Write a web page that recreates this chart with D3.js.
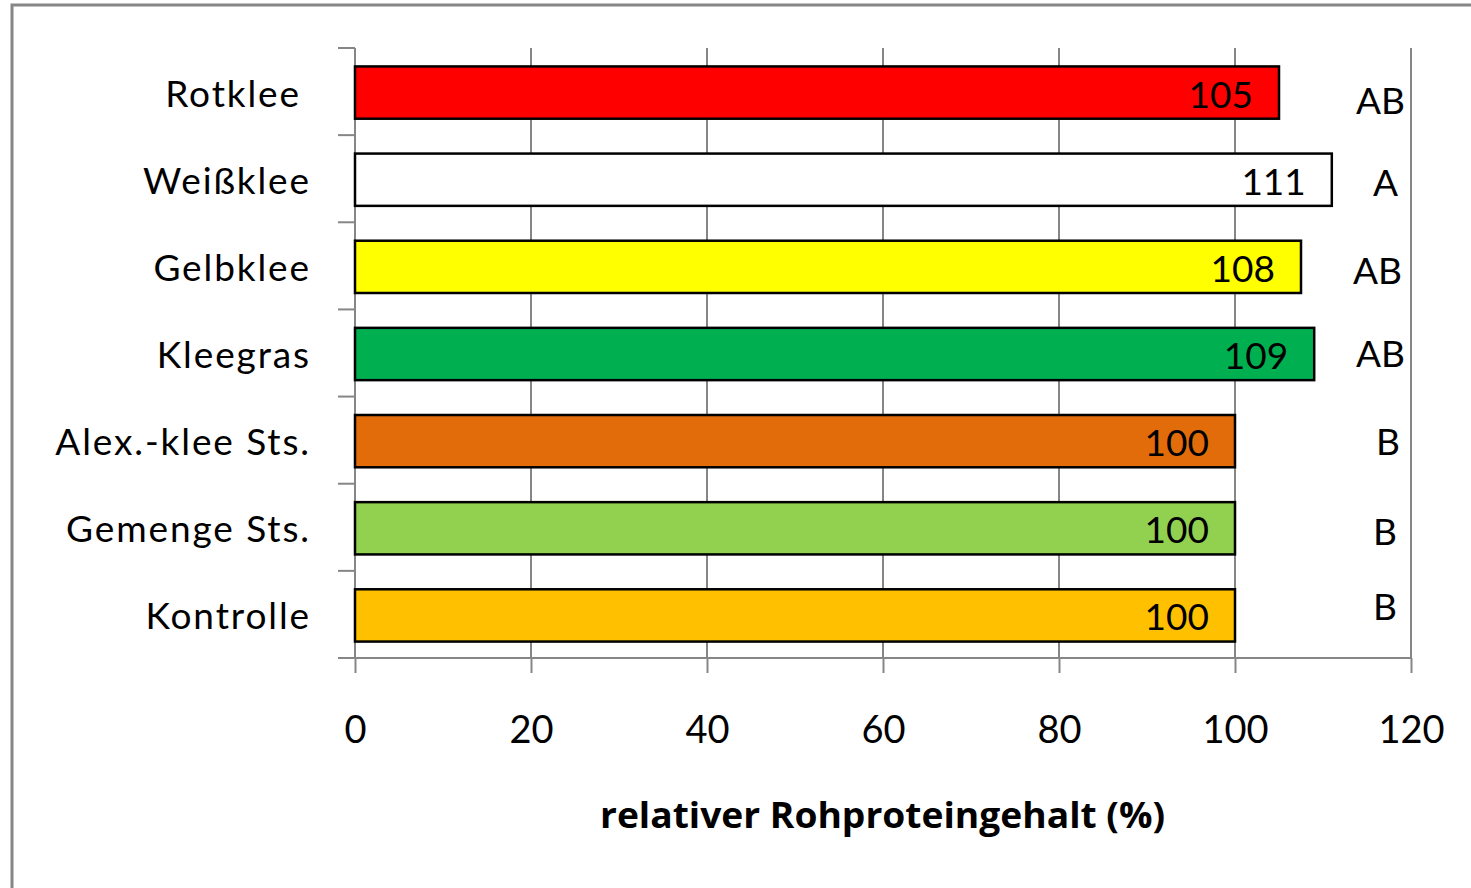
<!DOCTYPE html>
<html><head><meta charset="utf-8">
<script src="https://cdn.jsdelivr.net/npm/d3@7"></script>
<style>html,body{margin:0;padding:0;background:#fff;overflow:hidden}</style>
</head><body>
<svg id="c" width="1471" height="888"></svg>
<script>
const categories = ["Rotklee","Weißklee","Gelbklee","Kleegras","Alex.-klee Sts.","Gemenge Sts.","Kontrolle"];
const values = [105, 111, 107.5, 109, 100, 100, 100];
const valueLabels = ["105","111","108","109","100","100","100"];
const letters = ["AB","A","AB","AB","B","B","B"];
const colors = ["#FF0000","#FFFFFF","#FFFF00","#00B050","#E36C0A","#92D050","#FFC000"];
const xTicks = [0,20,40,60,80,100,120];
const xTitle = "relativer Rohproteingehalt (%)";

// layout tweaks for the significance letters and labels (offsets in px)
const letterDx = [1,-6,-2,1,-4,-7,-7];
const letterDy = [22,17,18,14,15,18,6];
const labelDx = [-10,0,0,0,0,0,0];

const svg = d3.select("#c");
const FONT = "Lato, 'Open Sans', sans-serif";
const grey = "#868686";
const L = 355, R = 1411, T = 48, B = 658;

svg.append("rect").attr("x",12).attr("y",5).attr("width",1600).attr("height",1000)
  .attr("fill","#fff").attr("stroke",grey).attr("stroke-width",3);

const x = d3.scaleLinear().domain([0,120]).range([L,R]);
const y = d3.scaleBand().domain(categories).range([T,B]).paddingInner(0.4).paddingOuter(0.2);

// vertical gridlines
svg.append("g").selectAll("line").data(xTicks.filter(d=>d>0)).join("line")
  .attr("x1",d=>x(d)).attr("x2",d=>x(d)).attr("y1",T).attr("y2",B)
  .attr("stroke",grey).attr("stroke-width",2);

// x axis
const xAxis = svg.append("g").attr("transform",`translate(0,${B})`)
  .call(d3.axisBottom(x).tickValues(xTicks).tickSize(15).tickPadding(0).tickFormat(d3.format("d")));
xAxis.select(".domain").attr("stroke",grey).attr("stroke-width",2).attr("d",`M${L-17},0H${R}`);
xAxis.selectAll(".tick line").attr("stroke",grey).attr("stroke-width",2);
xAxis.selectAll(".tick text").attr("font-family",FONT).attr("font-size",38).attr("fill","#000")
  .attr("dy",null).attr("y",85);

// y axis (category boundaries)
svg.append("line").attr("x1",L).attr("x2",L).attr("y1",T).attr("y2",B).attr("stroke",grey).attr("stroke-width",2);
svg.append("g").selectAll("line").data(d3.range(categories.length+1)).join("line")
  .attr("x1",L-17).attr("x2",L).attr("y1",i=>T+i*(B-T)/categories.length).attr("y2",i=>T+i*(B-T)/categories.length)
  .attr("stroke",grey).attr("stroke-width",2);

// category labels
const bandCenter = c => T + (categories.indexOf(c)+0.5)*(B-T)/categories.length;
svg.append("g").selectAll("text").data(categories).join("text")
  .attr("x",(d,i)=>311+labelDx[i]).attr("y",d=>bandCenter(d)+15).attr("text-anchor","end")
  .attr("letter-spacing","1.9px")
  .attr("font-family",FONT).attr("font-size",37).attr("fill","#000").text(d=>d);

// bars
svg.append("g").selectAll("rect").data(values).join("rect")
  .attr("x",x(0)).attr("y",(d,i)=>y(categories[i])+1)
  .attr("width",d=>x(d)-x(0)).attr("height",y.bandwidth())
  .attr("fill",(d,i)=>colors[i]).attr("stroke","#000").attr("stroke-width",2.5);

// value labels
svg.append("g").selectAll("text").data(values).join("text")
  .attr("x",d=>x(d)-26).attr("y",(d,i)=>y(categories[i])+1+y.bandwidth()/2+15)
  .attr("text-anchor","end").attr("font-family",FONT).attr("font-size",37).attr("fill","#000")
  .text((d,i)=>valueLabels[i]);

// significance letters
svg.append("g").selectAll("text").data(letters).join("text")
  .attr("x",(d,i)=>x(120)-7+letterDx[i]).attr("y",(d,i)=>bandCenter(categories[i])+letterDy[i])
  .attr("text-anchor","end").attr("font-family",FONT).attr("font-size",37).attr("fill","#000").text(d=>d);

// axis title
svg.append("text").attr("x",600).attr("y",828).attr("text-anchor","start")
  .attr("textLength",565).attr("lengthAdjust","spacingAndGlyphs")
  .attr("font-family","'Open Sans', Lato, sans-serif").attr("font-weight","bold").attr("font-size",35).attr("fill","#000")
  .text(xTitle);
</script>
</body></html>
